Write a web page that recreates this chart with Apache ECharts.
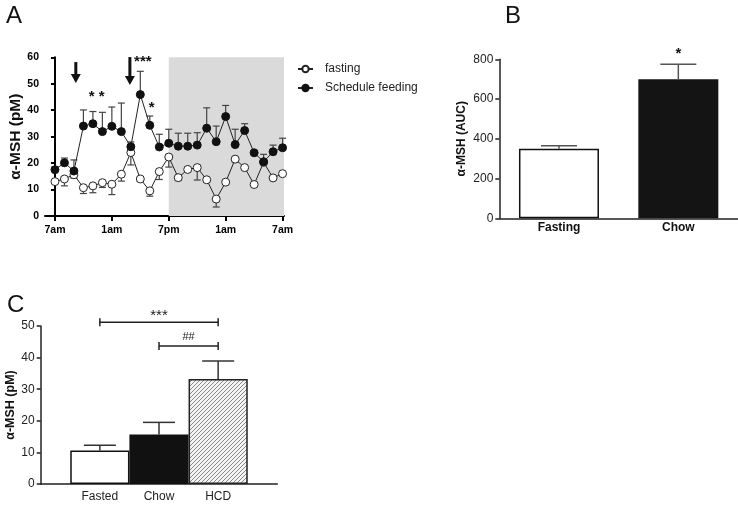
<!DOCTYPE html>
<html><head><meta charset="utf-8">
<script src="https://cdn.jsdelivr.net/npm/echarts@6/dist/echarts.min.js"></script>
<style>html,body{margin:0;padding:0;background:#fff}#c{width:738px;height:505px}</style>
</head><body><div id="c"></div>
<script>
// ---------- Panel A data (2-hourly samples, 7am -> 7am) ----------
const timePoints = [0,1,2,3,4,5,6,7,8,9,10,11,12,13,14,15,16,17,18,19,20,21,22,23,24];
const timeTickPositions = [0,6,12,18,24];
const timeTickLabels = ['7am','1am','7pm','1am','7am'];
const fastingValues = [13.0,14.0,15.6,10.7,11.4,12.6,12.0,15.8,24.0,14.0,9.5,16.8,22.3,14.5,17.6,18.3,13.7,6.4,12.8,21.5,18.3,11.9,20.3,14.4,16.0];
const fastingSEM    = [0.5,2.6,1.3,2.2,2.6,1.8,3.9,2.6,4.7,0.8,2.0,3.0,3.8,1.1,0.6,4.7,0.8,3.0,0.6,1.0,0.6,0.5,0.5,0.6,0.8];
const feedingValues = [17.5,20.1,17.0,34.0,34.9,31.9,33.9,31.9,26.2,45.9,34.3,26.1,27.5,26.4,26.4,26.8,33.2,28.1,37.6,27.0,32.3,23.9,20.5,24.3,25.8];
const feedingSEM    = [1.1,1.8,4.2,6.1,4.6,7.3,7.3,10.8,1.8,8.8,3.5,4.8,5.3,4.9,4.9,4.7,7.7,5.9,4.2,5.8,2.6,0.8,2.8,2.5,3.6];
const darkPhase = [12, 24];
const arrowsA = [[2.2, 58.2, 50.3], [7.9, 60.1, 49.5]];      // x, top, tip
const starsA  = [[3.87, 45.0, '*'], [4.92, 45.0, '*'], [9.27, 58.3, '***'], [10.2, 40.8, '*']];

// ---------- Panel B data ----------
const aucCategories = ['Fasting', 'Chow'];
const aucValues = [350, 700];
const aucSEM = [15, 75];
const aucStars = [[1, 825, '*']];

// ---------- Panel C data ----------
const dietCategories = ['Fasted', 'Chow', 'HCD'];
const dietValues = [10.6, 15.7, 33.2];
const dietSEM = [1.7, 3.8, 5.7];
const dietBrackets = [[1, 3, 51.2, '***'], [2, 3, 43.7, '##']];

const FONT = '"Liberation Sans", Arial, Helvetica, sans-serif';

function hatch(){
  const c = document.createElement('canvas'); c.width = 4; c.height = 4;
  const g = c.getContext('2d');
  g.fillStyle = '#f4f4f4'; g.fillRect(0,0,4,4);
  g.strokeStyle = '#888'; g.lineWidth = 1.0;
  g.beginPath();
  g.moveTo(0,4); g.lineTo(4,0);
  g.moveTo(-1,1); g.lineTo(1,-1);
  g.moveTo(3,5); g.lineTo(5,3);
  g.stroke();
  return c;
}

function errRender(dir, half, color, lw){
  return function(params, api){
    const x = api.value(0), y = api.value(1), e = api.value(2);
    const p0 = api.coord([x, y]), p1 = api.coord([x, y + dir*e]);
    return {type:'group', children:[
      {type:'line', shape:{x1:p0[0], y1:p0[1], x2:p1[0], y2:p1[1]}, style:{stroke:color, lineWidth:lw}},
      {type:'line', shape:{x1:p1[0]-half, y1:p1[1], x2:p1[0]+half, y2:p1[1]}, style:{stroke:color, lineWidth:lw}}
    ]};
  };
}
const starLabels = {
  starsA: starsA.map(s => s[2]),
  starsB: aucStars.map(s => s[2])
};
function textRender(size, weight){
  return function(params, api){
    const p = api.coord([api.value(0), api.value(1)]);
    return {type:'text', x:p[0], y:p[1], style:{text: starLabels[params.seriesName][params.dataIndex], fontSize:size, fontWeight:weight, fontFamily:FONT, fill:'#111', align:'center', verticalAlign:'middle'}};
  };
}

const chart = echarts.init(document.getElementById('c'), null, {renderer:'canvas'});

const axisCommon = (w, c) => ({show:true, lineStyle:{color:c, width:w}});

const cCats = [''].concat(dietCategories, ['']);
const cStyles = [
  {color:'#fff', borderColor:'#111', borderWidth:1.5},
  {color:'#111', borderColor:'#111', borderWidth:1.5},
  {color:{image:hatch(), repeat:'repeat'}, borderColor:'#222', borderWidth:1.5}
];
const cBarData = [null].concat(dietValues.map((v,i) => ({value:v, itemStyle:cStyles[i]})), [null]);

const option = {
  animation:false,
  textStyle:{fontFamily:FONT},
  graphic:[
    {type:'text', left:6, top:4, style:{text:'A', fontSize:24, fill:'#111', fontFamily:FONT}},
    {type:'text', left:505, top:4, style:{text:'B', fontSize:24, fill:'#111', fontFamily:FONT}},
    {type:'text', left:7, top:293, style:{text:'C', fontSize:24, fill:'#111', fontFamily:FONT}}
  ],
  legend:{
    left:297, top:63, orient:'vertical', padding:0, itemWidth:15, itemHeight:8, itemGap:7,
    textStyle:{fontSize:12, color:'#222', fontFamily:FONT, padding:[0,0,0,7]},
    data:['fasting','Schedule feeding']
  },
  grid:[
    {left:45, top:57.3, width:239, height:158.7, outerBoundsMode:'none'},
    {left:499.3, top:59.3, width:238.7, height:159, outerBoundsMode:'none'},
    {left:40.7, top:326, width:236.6, height:158, outerBoundsMode:'none'}
  ],
  xAxis:[
    {gridIndex:0, type:'value', min:-1.05, max:24.15,
      axisLine:axisCommon(2,'#000'), splitLine:{show:false},
      axisTick:{show:true, customValues:timeTickPositions, length:5, lineStyle:{width:2, color:'#000'}},
      axisLabel:{customValues:timeTickPositions, formatter:v => timeTickLabels[timeTickPositions.indexOf(v)], fontSize:10.5, fontWeight:'bold', color:'#000', margin:9}},
    {gridIndex:1, type:'category', data:aucCategories,
      axisLine:axisCommon(1.5,'#222'), axisTick:{show:false},
      axisLabel:{fontSize:12, fontWeight:'bold', color:'#111', margin:3}},
    {gridIndex:2, type:'category', data:cCats, boundaryGap:false,
      axisLine:axisCommon(1.5,'#222'), axisTick:{show:false},
      axisLabel:{interval:0, fontSize:12, color:'#222', margin:7}}
  ],
  yAxis:[
    {gridIndex:0, type:'value', min:0, max:60, interval:10,
      name:'α-MSH (pM)', nameLocation:'middle', nameGap:18, nameTextStyle:{fontSize:15.5, fontWeight:'bold', color:'#111'},
      axisLine:axisCommon(2,'#000'), splitLine:{show:false},
      axisTick:{show:true, length:4, lineStyle:{width:2, color:'#000'}},
      axisLabel:{fontSize:10.5, fontWeight:'bold', color:'#000', margin:6}},
    {gridIndex:1, type:'value', min:0, max:800, interval:200,
      name:'α-MSH (AUC)', nameLocation:'middle', nameGap:32, nameTextStyle:{fontSize:12, fontWeight:'bold', color:'#111'},
      axisLine:axisCommon(1.5,'#222'), splitLine:{show:false},
      axisTick:{show:true, length:4, lineStyle:{width:1.5, color:'#222'}},
      axisLabel:{fontSize:12, color:'#222', margin:6}},
    {gridIndex:2, type:'value', min:0, max:50, interval:10,
      name:'α-MSH (pM)', nameLocation:'middle', nameGap:24, nameTextStyle:{fontSize:12.5, fontWeight:'bold', color:'#111'},
      axisLine:axisCommon(1.5,'#222'), splitLine:{show:false},
      axisTick:{show:true, length:4, lineStyle:{width:1.5, color:'#222'}},
      axisLabel:{fontSize:12, color:'#222', margin:6}}
  ],
  series:[
    {name:'fasting', type:'line', xAxisIndex:0, yAxisIndex:0, z:4,
      data:timePoints.map((t,i) => [t, fastingValues[i]]),
      symbol:'circle', symbolSize:8, showAllSymbol:true,
      lineStyle:{color:'#222', width:1},
      itemStyle:{color:'#fff', borderColor:'#222', borderWidth:1},
      markArea:{silent:true, itemStyle:{color:'#dadada'}, data:[[{xAxis:darkPhase[0], yAxis:0},{xAxis:24.15, yAxis:60}]]}
    },
    {name:'Schedule feeding', type:'line', xAxisIndex:0, yAxisIndex:0, z:5,
      data:timePoints.map((t,i) => [t, feedingValues[i]]),
      symbol:'circle', symbolSize:8, showAllSymbol:true,
      lineStyle:{color:'#222', width:1},
      itemStyle:{color:'#111', borderColor:'#111', borderWidth:1}
    },
    {name:'errFast', type:'custom', xAxisIndex:0, yAxisIndex:0, z:3,
      renderItem:errRender(-1, 3.5, '#444', 1.2),
      data:timePoints.map((t,i) => [t, fastingValues[i], fastingSEM[i]])},
    {name:'errFeed', type:'custom', xAxisIndex:0, yAxisIndex:0, z:3,
      renderItem:errRender(1, 3.5, '#444', 1.2),
      data:timePoints.map((t,i) => [t, feedingValues[i], feedingSEM[i]])},
    {name:'arrows', type:'custom', xAxisIndex:0, yAxisIndex:0, z:6,
      renderItem:function(params, api){
        const top = api.coord([api.value(0), api.value(1)]);
        const tip = api.coord([api.value(0), api.value(2)]);
        const hh = 9, hw = 5;
        return {type:'group', children:[
          {type:'line', shape:{x1:top[0], y1:top[1], x2:tip[0], y2:tip[1]-hh+1}, style:{stroke:'#111', lineWidth:3}},
          {type:'polygon', shape:{points:[[tip[0]-hw, tip[1]-hh],[tip[0]+hw, tip[1]-hh],[tip[0], tip[1]]]}, style:{fill:'#111'}}
        ]};
      },
      data:arrowsA},
    {name:'starsA', type:'custom', xAxisIndex:0, yAxisIndex:0, z:6,
      renderItem:textRender(15, 'bold'), data:starsA.map(s => [s[0], s[1]])},

    {name:'auc', type:'bar', xAxisIndex:1, yAxisIndex:1, barWidth:80, z:2,
      data:aucValues.map((v,i) => ({value:v, itemStyle: i === 0 ? {color:'#fff', borderColor:'#111', borderWidth:1.5} : {color:'#141414', borderColor:'#141414', borderWidth:1.5}}))},
    {name:'errB', type:'custom', xAxisIndex:1, yAxisIndex:1, z:3,
      renderItem:errRender(1, 18, '#555', 1.5),
      data:aucValues.map((v,i) => [i, v, aucSEM[i]])},
    {name:'starsB', type:'custom', xAxisIndex:1, yAxisIndex:1, z:6,
      renderItem:textRender(15, 'bold'), data:aucStars.map(s => [s[0], s[1]])},

    {name:'diet', type:'bar', xAxisIndex:2, yAxisIndex:2, barWidth:59.2, z:2, data:cBarData},
    {name:'errC', type:'custom', xAxisIndex:2, yAxisIndex:2, z:3,
      renderItem:errRender(1, 16, '#333', 1.5),
      data:dietValues.map((v,i) => [i+1, v, dietSEM[i]])},
    {name:'brackets', type:'custom', xAxisIndex:2, yAxisIndex:2, z:6,
      renderItem:function(params, api){
        const a = api.coord([api.value(0), api.value(2)]);
        const b = api.coord([api.value(1), api.value(2)]);
        const st = {stroke:'#222', lineWidth:1.5};
        const lbl = dietBrackets[params.dataIndex][3];
        return {type:'group', children:[
          {type:'line', shape:{x1:a[0], y1:a[1], x2:b[0], y2:b[1]}, style:st},
          {type:'line', shape:{x1:a[0], y1:a[1]-4, x2:a[0], y2:a[1]+4}, style:st},
          {type:'line', shape:{x1:b[0], y1:b[1]-4, x2:b[0], y2:b[1]+4}, style:st},
          {type:'text', x:(a[0]+b[0])/2, y:a[1]-(lbl === '##' ? 9 : 6), style:{text:lbl, fontSize:lbl === '##' ? 11 : 15, fontFamily:FONT, fill:'#222', align:'center', verticalAlign:'middle'}}
        ]};
      },
      data:dietBrackets.map(b => [b[0], b[1], b[2]])}
  ]
};
chart.setOption(option);
</script>
</body></html>
